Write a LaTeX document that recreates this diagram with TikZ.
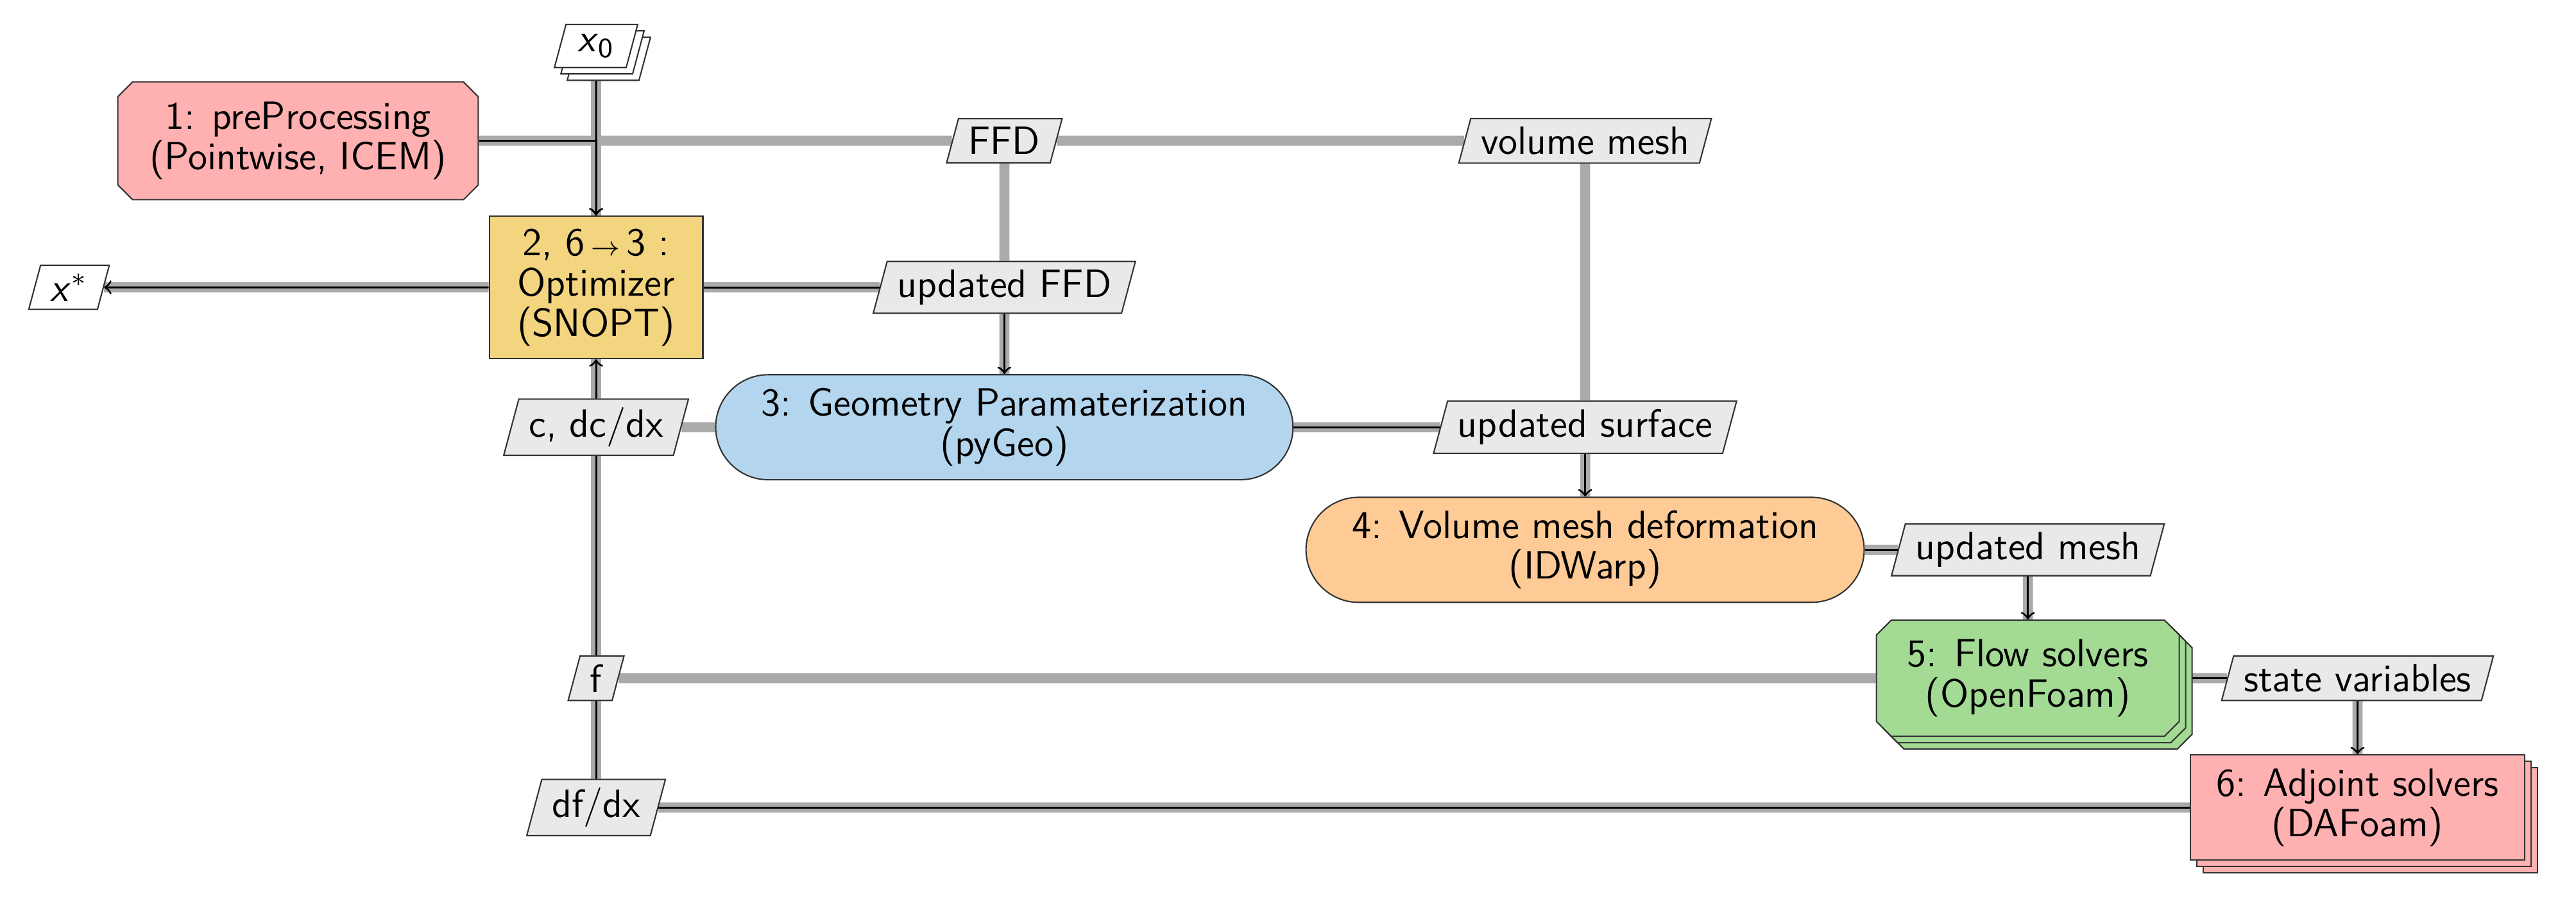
\documentclass[tikz,border=0pt]{standalone}
\usetikzlibrary{shapes.geometric,shapes.misc,shadows,backgrounds}

\definecolor{optcolor}{HTML}{F3D580}
\definecolor{precolor}{HTML}{FFB0B0}
\definecolor{geocolor}{HTML}{B3D5EE}
\definecolor{meshcolor}{HTML}{FECB96}
\definecolor{flowcolor}{HTML}{A3DB95}
\definecolor{datacolor}{HTML}{E9E9E9}
\definecolor{linecolor}{HTML}{AAAAAA}

\tikzset{
  every node/.style={font=\sffamily\fontsize{11.7}{12}\selectfont},
  block/.style={draw=black!80, line width=0.4pt, align=center, inner sep=0pt},
  chamfbox/.style={chamfered rectangle, chamfered rectangle xsep=2.2pt, chamfered rectangle ysep=2.2pt},
  datanode/.style={draw=black!80, line width=0.4pt, fill=datacolor, trapezium,
    trapezium left angle=75, trapezium right angle=105, inner xsep=3pt, inner ysep=2.5pt,
    minimum height=12.8pt},
  ioput/.style={datanode, fill=white},
  stackbox/.style={double copy shadow={shadow xshift=1.9pt, shadow yshift=-1.9pt}},
  dataline/.style={draw=linecolor, line width=3pt},
  procline/.style={draw=black, line width=0.6pt, ->},
}

\begin{document}
\begin{tikzpicture}
  \useasboundingbox (0,0) rectangle (26.88,-9.50);

  \node[ioput, stackbox] (x0) at (6.22,-0.48) {\textit{x}\textsubscript{0}};
  \node[ioput] (xstar) at (0.72,-3.00) {\textit{x}$^*$};

  \node[block, fill=precolor, chamfbox, minimum width=107pt, minimum height=35pt]
    (pre) at (3.11,-1.47) {1: preProcessing\\(Pointwise, ICEM)};
  \node[block, fill=optcolor, minimum width=63.4pt, minimum height=42.3pt] (opt) at (6.22,-3.00)
    {2, 6\,$\scriptstyle\rightarrow$\,3 :\\Optimizer\\(SNOPT)};
  \node[block, fill=geocolor, rounded rectangle, minimum width=171.4pt, minimum height=31.2pt]
    (geo) at (10.48,-4.46) {3: Geometry Paramaterization\\(pyGeo)};
  \node[block, fill=meshcolor, rounded rectangle, minimum width=165.7pt, minimum height=31.2pt]
    (vmd) at (16.54,-5.74) {4: Volume mesh deformation\\(IDWarp)};
  \node[block, fill=flowcolor, chamfbox, stackbox, minimum width=89.9pt, minimum height=34.5pt]
    (flow) at (21.16,-7.08) {5: Flow solvers\\(OpenFoam)};
  \node[block, fill=precolor, stackbox, minimum width=99.2pt, minimum height=31.2pt]
    (adj) at (24.60,-8.43) {6: Adjoint solvers\\(DAFoam)};

  \node[datanode] (ffd) at (10.48,-1.47) {FFD};
  \node[datanode] (vmesh) at (16.54,-1.47) {volume mesh};
  \node[datanode] (updffd) at (10.48,-3.00) {updated FFD};
  \node[datanode] (dcdx) at (6.22,-4.46) {c, dc/dx};
  \node[datanode] (updsurf) at (16.54,-4.46) {updated surface};
  \node[datanode] (updmesh) at (21.16,-5.74) {updated mesh};
  \node[datanode] (f) at (6.22,-7.08) {f};
  \node[datanode] (state) at (24.60,-7.08) {state variables};
  \node[datanode] (dfdx) at (6.22,-8.43) {df/dx};

  \begin{pgfonlayer}{background}
    \draw[dataline] (pre) -- (ffd) -- (vmesh);
    \draw[dataline] (ffd) -- (updffd) -- (geo);
    \draw[dataline] (vmesh) -- (updsurf) -- (vmd);
    \draw[dataline] (x0) -- (opt);
    \draw[dataline] (opt) -- (xstar);
    \draw[dataline] (opt) -- (updffd);
    \draw[dataline] (geo) -- (updsurf);
    \draw[dataline] (geo) -- (dcdx) -- (opt);
    \draw[dataline] (vmd) -- (updmesh) -- (flow);
    \draw[dataline] (flow) -- (f) -- (dcdx);
    \draw[dataline] (flow) -- (state) -- (adj);
    \draw[dataline] (adj) -- (dfdx) -- (f);

    \draw[procline] (x0) -- (opt);
    \draw[procline] (pre) -| (opt);
    \draw[procline] (opt) -- (xstar);
    \draw[procline] (opt) -| (geo);
    \draw[procline] (geo) -| (vmd);
    \draw[procline] (vmd) -| (flow);
    \draw[procline] (flow) -| (adj);
    \draw[procline] (adj) -| (opt);
  \end{pgfonlayer}
\end{tikzpicture}
\end{document}
